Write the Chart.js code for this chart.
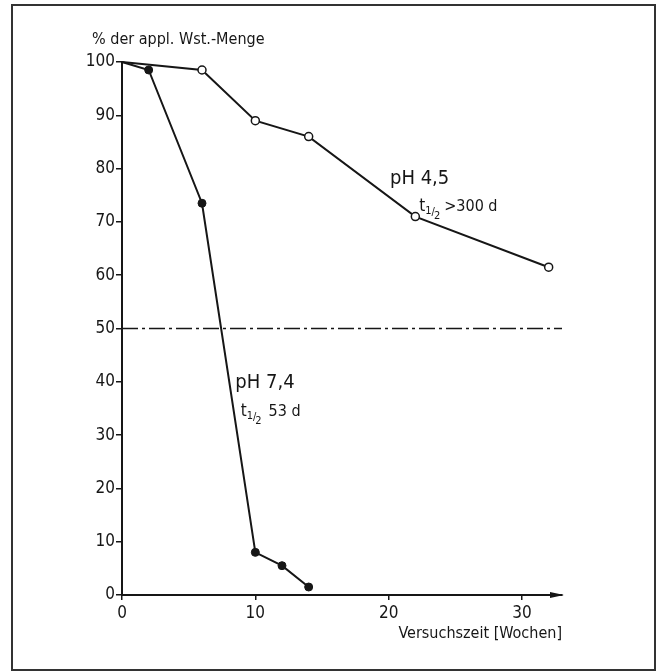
<!DOCTYPE html>
<html>
<head>
<meta charset="utf-8">
<script src="https://cdn.jsdelivr.net/npm/chart.js@4"></script>
<style>
  html, body { margin: 0; padding: 0; background: #fff; }
  #wrap { width: 658px; height: 672px; }
</style>
</head>
<body>
<div id="wrap"><canvas id="myChart" width="658" height="672"></canvas></div>
<script>
// data
var weeksPH45 = [0, 6, 10, 14, 22, 32];
var valuesPH45 = [100, 98.5, 89, 86, 71, 61.5];
var weeksPH74 = [0, 2, 6, 10, 12, 14];
var valuesPH74 = [100, 98.5, 73.5, 8, 5.5, 1.5];
var halfLineWeeks = [0, 33];
var halfLineValue = 50;
var xTickValues = [0, 10, 20, 30];
var yTickValues = [0, 10, 20, 30, 40, 50, 60, 70, 80, 90, 100];

var FONT = "'DejaVu Sans Condensed', 'Liberation Sans Narrow', sans-serif";
var INK = '#161616';

function toPoints(xs, ys) {
    return xs.map(function (x, i) { return { x: x, y: ys[i] }; });
}

// t1/2 label: "t" with a small 1/2 below the baseline, then the rest
function drawHalfLife(ctx, x, y, rest, gap) {
    ctx.font = '17px ' + FONT;
    ctx.textBaseline = 'alphabetic';
    ctx.textAlign = 'left';
    ctx.fillText('t', x, y);
    var w = ctx.measureText('t').width;
    ctx.font = '11px ' + FONT;
    ctx.fillText('1', x + w, y + 3);
    var w1 = ctx.measureText('1').width;
    ctx.fillText('/', x + w + w1, y + 4);
    var w2 = ctx.measureText('/').width;
    ctx.fillText('2', x + w + w1 + w2 - 1, y + 8);
    var w3 = ctx.measureText('2').width;
    ctx.font = '16px ' + FONT;
    ctx.fillText(rest, x + w + w1 + w2 + w3 + gap, y);
}

var decorations = {
    id: 'decorations',
    afterDraw: function (chart) {
        var ctx = chart.ctx;
        var xs = chart.scales.x, ys = chart.scales.y;
        var area = chart.chartArea;
        ctx.save();
        // frame
        ctx.strokeStyle = '#333';
        ctx.lineWidth = 2;
        ctx.strokeRect(12, 5, 643, 665);
        // arrow at the end of the time axis
        ctx.fillStyle = INK;
        ctx.beginPath();
        ctx.moveTo(area.right + 2, area.bottom);
        ctx.lineTo(area.right - 12, area.bottom - 3);
        ctx.lineTo(area.right - 12, area.bottom + 3);
        ctx.closePath();
        ctx.fill();
        // y axis caption
        ctx.font = '16px ' + FONT;
        ctx.textAlign = 'left';
        ctx.textBaseline = 'middle';
        ctx.fillText('% der appl. Wst.-Menge', 92, 40);
        // curve labels
        ctx.font = '20px ' + FONT;
        ctx.fillText('pH 4,5', xs.getPixelForValue(20.1), ys.getPixelForValue(78));
        ctx.fillText('pH 7,4', xs.getPixelForValue(8.5), ys.getPixelForValue(39.8));
        drawHalfLife(ctx, xs.getPixelForValue(22.3), ys.getPixelForValue(73.2) + 6, '>300 d', 3);
        drawHalfLife(ctx, xs.getPixelForValue(8.9), ys.getPixelForValue(34.7) + 6, '53 d', 6);
        ctx.restore();
    }
};

var ctx = document.getElementById('myChart').getContext('2d');

var myChart = new Chart(ctx, {
    type: 'line',
    data: {
        datasets: [{
            label: 'pH 4,5',
            data: toPoints(weeksPH45, valuesPH45),
            borderColor: INK,
            borderWidth: 2,
            pointRadius: [0, 4, 4, 4, 4, 4],
            pointBackgroundColor: '#fff',
            pointBorderColor: INK,
            pointBorderWidth: 1.5,
            tension: 0,
            clip: 10
        }, {
            label: 'pH 7,4',
            data: toPoints(weeksPH74, valuesPH74),
            borderColor: INK,
            borderWidth: 2,
            pointRadius: [0, 4, 4, 4, 4, 4],
            pointBackgroundColor: INK,
            pointBorderColor: INK,
            pointBorderWidth: 1,
            tension: 0,
            clip: 10
        }, {
            label: '50 %',
            data: toPoints(halfLineWeeks, halfLineWeeks.map(function () { return halfLineValue; })),
            borderColor: INK,
            borderWidth: 1.5,
            borderDash: [16, 4, 3, 4],
            pointRadius: 0,
            tension: 0
        }]
    },
    options: {
        responsive: false,
        animation: false,
        layout: { padding: { left: 0, right: 96, top: 62, bottom: 0 } },
        plugins: {
            legend: { display: false },
            tooltip: { enabled: false }
        },
        scales: {
            x: {
                type: 'linear',
                min: 0,
                max: 33,
                afterFit: function (scale) { scale.height = 77; },
                afterBuildTicks: function (scale) {
                    scale.ticks = xTickValues.map(function (v) { return { value: v }; });
                },
                border: { display: true, color: INK, width: 2 },
                grid: { display: true, drawOnChartArea: false, drawTicks: true, tickLength: 5, color: INK, lineWidth: 1.5 },
                ticks: { color: INK, font: { family: FONT, size: 17 }, padding: 3 },
                title: {
                    display: true,
                    text: 'Versuchszeit [Wochen]',
                    align: 'end',
                    color: INK,
                    font: { family: FONT, size: 16 },
                    padding: { top: 0, bottom: 29 }
                }
            },
            y: {
                type: 'linear',
                min: 0,
                max: 100,
                afterFit: function (scale) { scale.width = 122; },
                afterBuildTicks: function (scale) {
                    scale.ticks = yTickValues.map(function (v) { return { value: v }; });
                },
                border: { display: true, color: INK, width: 2 },
                grid: { display: true, drawOnChartArea: false, drawTicks: true, tickLength: 6, color: INK, lineWidth: 1.5 },
                ticks: { color: INK, font: { family: FONT, size: 17 }, padding: 1 }
            }
        }
    },
    plugins: [decorations]
});
</script>
</body>
</html>
